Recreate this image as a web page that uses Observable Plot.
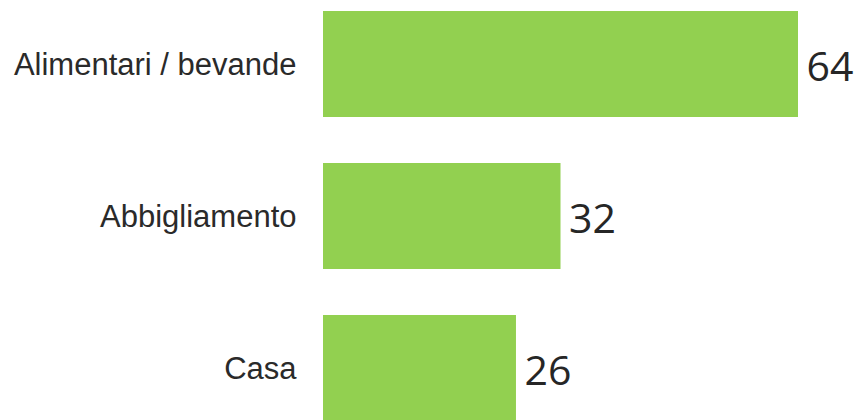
<!DOCTYPE html>
<html>
<head>
<meta charset="utf-8">
<script src="https://cdn.jsdelivr.net/npm/d3@7"></script>
<script src="https://cdn.jsdelivr.net/npm/@observablehq/plot@0.6"></script>
<style>
  html, body { margin: 0; padding: 0; background: #ffffff; }
  #chart svg { display: block; }
</style>
</head>
<body>
<div id="chart"></div>
<script>
const categories = ["Alimentari / bevande", "Abbigliamento", "Casa"];
const values = [64, 32, 26];

const data = categories.map((c, i) => ({category: c, value: values[i]}));

const chart = Plot.plot({
  width: 860,
  height: 420,
  marginLeft: 323,
  marginRight: 62,
  marginTop: 0,
  marginBottom: 0,
  style: {background: "#ffffff", overflow: "visible", fontFamily: "'Liberation Sans', Arial, sans-serif"},
  x: {domain: [0, 64], axis: null},
  y: {domain: categories, range: [10, 422], paddingInner: 0.3, paddingOuter: 0, label: null},
  marks: [
    Plot.barX(data, {x: "value", y: "category", fill: "#92d050"}),
    Plot.axisY({tickSize: 0, tickPadding: 27, fontSize: 31, fontFamily: "'Liberation Sans', Arial, sans-serif", color: "#2a2a2a", label: null, dy: 1}),
    Plot.text(data, {x: "value", y: "category", text: d => String(d.value), textAnchor: "start", dx: 8, dy: 3,
      fontSize: 41, fontFamily: "'Open Sans', sans-serif", fill: "#262626"})
  ]
});
document.getElementById("chart").appendChild(chart);
</script>
</body>
</html>
